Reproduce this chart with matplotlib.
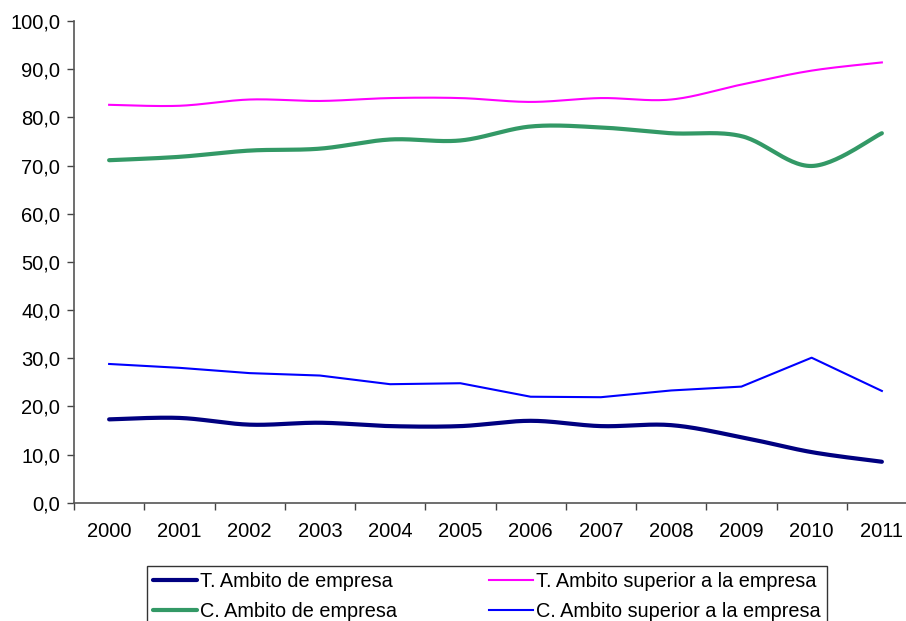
import matplotlib.pyplot as plt
import numpy as np

# values
years = ["2000", "2001", "2002", "2003", "2004", "2005",
         "2006", "2007", "2008", "2009", "2010", "2011"]
t_empresa = [17.3, 17.6, 16.2, 16.6, 15.9, 15.9, 17.0, 15.9, 16.1, 13.6, 10.5, 8.5]
t_superior = [82.6, 82.4, 83.7, 83.4, 84.0, 84.0, 83.2, 84.0, 83.7, 86.8, 89.7, 91.4]
c_empresa = [71.1, 71.8, 73.1, 73.5, 75.4, 75.2, 78.1, 77.9, 76.7, 76.1, 69.9, 76.7]
c_superior = [28.8, 28.0, 26.9, 26.4, 24.6, 24.8, 22.0, 21.9, 23.3, 24.1, 30.1, 23.2]


def smooth(xs, ys, n=30):
    # Excel-style smoothed line: cubic Bezier through the points
    xs = np.asarray(xs, float)
    ys = np.asarray(ys, float)
    px = np.concatenate([[xs[0]], xs, [xs[-1]]])
    py = np.concatenate([[ys[0]], ys, [ys[-1]]])
    out_x, out_y = [], []
    t = np.linspace(0, 1, n)
    for i in range(1, len(px) - 2):
        p0 = np.array([px[i], py[i]])
        p3 = np.array([px[i + 1], py[i + 1]])
        c1 = p0 + (np.array([px[i + 1], py[i + 1]]) - np.array([px[i - 1], py[i - 1]])) / 6
        c2 = p3 - (np.array([px[i + 2], py[i + 2]]) - p0) / 6
        b = ((1 - t) ** 3)[:, None] * p0 + (3 * (1 - t) ** 2 * t)[:, None] * c1 \
            + (3 * (1 - t) * t ** 2)[:, None] * c2 + (t ** 3)[:, None] * p3
        out_x.extend(b[:, 0])
        out_y.extend(b[:, 1])
    return out_x, out_y


plt.rcParams['font.family'] = ['Liberation Sans', 'DejaVu Sans']
fs = 14.5

fig = plt.figure(figsize=(9.06, 6.21), dpi=100)
ax = fig.add_axes([74 / 906, 118.3 / 621, 843 / 906, 481.7 / 621])

x = np.arange(len(years))
sx, sy = smooth(x, t_empresa)
ax.plot(sx, sy, color="#000080", lw=3.0, solid_capstyle="round", label="T. Ambito de empresa")
sx, sy = smooth(x, t_superior)
ax.plot(sx, sy, color="#FF00FF", lw=1.5, label="T. Ambito superior a la empresa")
sx, sy = smooth(x, c_empresa)
ax.plot(sx, sy, color="#339966", lw=3.0, solid_capstyle="round", label="C. Ambito de empresa")
ax.plot(x, c_superior, color="#0000FF", lw=1.5, label="C. Ambito superior a la empresa")

ax.set_xlim(-0.5, len(years) - 0.5)
ax.set_ylim(0, 100)
ax.set_yticks(np.arange(0, 101, 10))
ax.set_yticklabels([f"{v:.1f}".replace(".", ",") for v in range(0, 101, 10)])
ax.set_xticks(x)
ax.set_xticklabels(years)
ax.set_xticks(np.arange(-0.5, len(years), 1), minor=True)
ax.tick_params(axis="x", which="major", length=0, pad=14, labelsize=fs)
ax.tick_params(axis="x", which="minor", length=5, width=1, color="#444444")
ax.tick_params(axis="y", length=5, width=1, color="#444444", pad=5, labelsize=fs)

for s in ["top", "right"]:
    ax.spines[s].set_visible(False)
for s in ["left", "bottom"]:
    ax.spines[s].set_color("#555555")
    ax.spines[s].set_linewidth(1.2)

h, l = ax.get_legend_handles_labels()
order = [0, 2, 1, 3]
fig.legend([h[i] for i in order], [l[i] for i in order], ncol=2,
           loc="upper left", bbox_to_anchor=(147 / 906, 1 - 566 / 621),
           fontsize=14.3, frameon=True, fancybox=False, edgecolor="black",
           handlelength=2.24, handletextpad=0.15, columnspacing=4.6,
           borderpad=0.3, labelspacing=0.55, borderaxespad=0)

fig.savefig("out.png", dpi=100)
